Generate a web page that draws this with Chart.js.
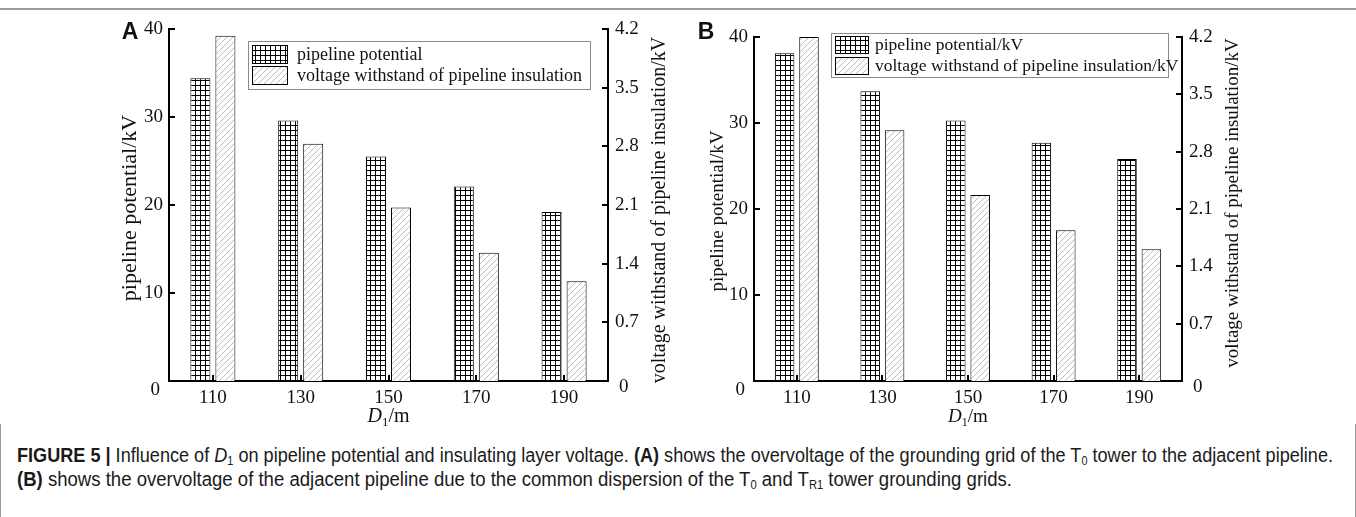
<!DOCTYPE html>
<html>
<head>
<meta charset="utf-8">
<script src="https://cdn.jsdelivr.net/npm/chart.js@4.4.1/dist/chart.umd.min.js"></script>
<style>
  html, body { margin:0; padding:0; background:#fff; }
  body { width:1356px; height:517px; position:relative; overflow:hidden; }
  #topline { position:absolute; left:0; top:8px; width:1356px; height:2px; background:#9a9a9a; }
  #capbox { position:absolute; left:0; top:424px; width:1354px; height:93px; border-left:1px solid #9a9a9a; border-right:1px solid #9a9a9a; }
  .cap { position:absolute; left:17px; white-space:nowrap; font-family:"Liberation Sans Narrow","Arial Narrow","Liberation Sans",Arial,sans-serif; font-size:20px; line-height:22px; color:#1a1a1a; transform-origin:0 0; }
  .cap sub { font-size:12px; vertical-align:-3px; line-height:0; }
  #cap1 { top:444px; }
  #cap2 { top:468px; }
  canvas { position:absolute; top:0; }
  #cA { left:0; }
  #cB { left:690px; }
</style>
</head>
<body>
<div id="topline"></div>
<div id="capbox"></div>
<canvas id="cA" width="690" height="430"></canvas>
<canvas id="cB" width="666" height="430"></canvas>
<div class="cap" id="cap1"><b>FIGURE 5 |</b> Influence of <i>D</i><sub>1</sub> on pipeline potential and insulating layer voltage. <b>(A)</b> shows the overvoltage of the grounding grid of the T<sub>0</sub> tower to the adjacent pipeline.</div>
<div class="cap" id="cap2"><b>(B)</b> shows the overvoltage of the adjacent pipeline due to the common dispersion of the T<sub>0</sub> and T<sub>R1</sub> tower grounding grids.</div>
<script>
// ---- data ----
const categories = ['110', '130', '150', '170', '190'];
const potentialA = [34.4, 29.6, 25.5, 22.1, 19.2];
const insulationA = [4.12, 2.83, 2.07, 1.53, 1.19];
const potentialB = [38.1, 33.7, 30.3, 27.7, 25.8];
const insulationB = [4.2, 3.06, 2.27, 1.84, 1.61];
const leftTicks = [0, 10, 20, 30, 40];
const rightTicks = [0, 0.7, 1.4, 2.1, 2.8, 3.5, 4.2];
const rightTickLabels = ['0', '0.7', '1.4', '2.1', '2.8', '3.5', '4.2'];
const legendLabelsA = ['pipeline potential', 'voltage withstand of pipeline insulation'];
const legendLabelsB = ['pipeline potential/kV', 'voltage withstand of pipeline insulation/kV'];
const leftTitle = 'pipeline potential/kV';
const rightTitle = 'voltage withstand of pipeline insulation/kV';

Chart.defaults.font.family = '"Liberation Serif", "Times New Roman", serif';
Chart.defaults.color = '#111';

function gridPattern(ctx) {
  const s = 5;
  const c = document.createElement('canvas'); c.width = s; c.height = s;
  const g = c.getContext('2d');
  g.fillStyle = '#fff'; g.fillRect(0, 0, s, s);
  g.fillStyle = '#000'; g.fillRect(0, 0, s, 1); g.fillRect(0, 0, 1, s);
  return ctx.createPattern(c, 'repeat');
}
function hatchPattern(ctx) {
  const s = 6;
  const c = document.createElement('canvas'); c.width = s; c.height = s;
  const g = c.getContext('2d');
  g.fillStyle = '#fff'; g.fillRect(0, 0, s, s);
  g.strokeStyle = '#b4b4b4'; g.lineWidth = 0.9;
  g.beginPath();
  g.moveTo(0, s); g.lineTo(s, 0);
  g.moveTo(-1, 1); g.lineTo(1, -1);
  g.moveTo(s - 1, s + 1); g.lineTo(s + 1, s - 1);
  g.stroke();
  return ctx.createPattern(c, 'repeat');
}

const deco = {
  id: 'deco',
  afterDraw(chart, args, o) {
    const { ctx, chartArea: ca, scales } = chart;
    const x = scales.x, y = scales.y, y1 = scales.y1;
    ctx.save();
    // inward ticks
    ctx.strokeStyle = '#000'; ctx.lineWidth = 2;
    ctx.beginPath();
    y.ticks.forEach(t => { const p = Math.round(y.getPixelForValue(t.value)); ctx.moveTo(ca.left, p); ctx.lineTo(ca.left + 6, p); });
    y1.ticks.forEach(t => { const p = Math.round(y1.getPixelForValue(t.value)); ctx.moveTo(ca.right - 6, p); ctx.lineTo(ca.right, p); });
    ctx.stroke();
    ctx.fillStyle = '#000';
    categories.forEach((c, i) => { const p = x.getPixelForValue(i); ctx.fillRect(Math.round(p) - 1, ca.bottom - 6, 2, 6); });
    // zero labels
    ctx.font = o.tickSize + 'px "Liberation Serif", serif';
    ctx.fillStyle = '#111'; ctx.textBaseline = 'middle';
    ctx.textAlign = 'right'; ctx.fillText('0', ca.left - 9, ca.bottom + 9);
    ctx.textAlign = 'left'; ctx.fillText('0', ca.right + 11, ca.bottom + 6);
    // axis titles
    ctx.textAlign = 'center'; ctx.textBaseline = 'middle';
    ctx.font = o.leftTitleSize + 'px "Liberation Serif", serif';
    ctx.save(); ctx.translate(o.leftTitleX, o.leftTitleY); ctx.rotate(-Math.PI / 2); ctx.fillText(leftTitle, 0, 0); ctx.restore();
    ctx.font = o.titleSize + 'px "Liberation Serif", serif';
    ctx.save(); ctx.translate(o.rightTitleX, o.rightTitleY); ctx.rotate(-Math.PI / 2); ctx.fillText(rightTitle, 0, 0); ctx.restore();
    // x title: D1/m
    const cx = (ca.left + ca.right) / 2;
    const fs = o.titleSize;
    ctx.textAlign = 'left'; ctx.textBaseline = 'alphabetic';
    const fI = 'italic ' + fs + 'px "Liberation Serif", serif';
    const fN = fs + 'px "Liberation Serif", serif';
    const fS = Math.round(fs * 0.65) + 'px "Liberation Serif", serif';
    ctx.font = fI; const wD = ctx.measureText('D').width;
    ctx.font = fS; const w1 = ctx.measureText('1').width;
    ctx.font = fN; const wm = ctx.measureText('/m').width;
    let sx = cx - (wD + w1 + wm) / 2; const by = o.xTitleY;
    ctx.font = fI; ctx.fillText('D', sx, by); sx += wD;
    ctx.font = fS; ctx.fillText('1', sx, by + 4); sx += w1;
    ctx.font = fN; ctx.fillText('/m', sx, by);
    // legend
    const L = o.legend;
    ctx.fillStyle = '#fff'; ctx.fillRect(L.x, L.y, L.w, L.h);
    ctx.strokeStyle = '#8a8a8a'; ctx.lineWidth = 1; ctx.strokeRect(L.x + 0.5, L.y + 0.5, L.w, L.h);
    const ds = chart.data.datasets;
    ds.forEach((d, i) => {
      const yy = L.y + L.sy[i];
      ctx.fillStyle = d.backgroundColor; ctx.fillRect(L.x + 4, yy, L.sw, L.sh);
      ctx.strokeStyle = '#000'; ctx.strokeRect(L.x + 4.5, yy + 0.5, L.sw, L.sh);
      ctx.fillStyle = '#111'; ctx.font = L.fs + 'px "Liberation Serif", serif';
      ctx.textAlign = 'left'; ctx.textBaseline = 'middle';
      ctx.fillText(L.labels[i], L.tx, yy + L.sh / 2 + 1);
    });
    // panel letter
    ctx.fillStyle = '#111'; ctx.font = 'bold 23px "Liberation Sans", Arial, sans-serif';
    ctx.textAlign = 'center'; ctx.textBaseline = 'middle';
    ctx.fillText(o.letter, o.letterX, o.letterY);
    ctx.restore();
  }
};

function makeChart(id, pot, ins, cfg) {
  const canvas = document.getElementById(id);
  const ctx = canvas.getContext('2d');
  return new Chart(ctx, {
    type: 'bar',
    data: {
      labels: categories,
      datasets: [
        { label: cfg.legend.labels[0], data: pot, yAxisID: 'y', backgroundColor: gridPattern(ctx), borderColor: '#000', borderWidth: 1, categoryPercentage: 0.57, barPercentage: 0.8 },
        { label: cfg.legend.labels[1], data: ins, yAxisID: 'y1', backgroundColor: hatchPattern(ctx), borderColor: '#000', borderWidth: 1, categoryPercentage: 0.57, barPercentage: 0.8 }
      ]
    },
    options: {
      responsive: false,
      animation: false,
      devicePixelRatio: 1,
      layout: { padding: { top: cfg.top, left: 0, right: 0, bottom: 0 } },
      plugins: { legend: { display: false }, tooltip: { enabled: false }, deco: cfg },
      scales: {
        x: {
          type: 'category', offset: true,
          grid: { display: false, drawTicks: false },
          border: { display: true, color: '#000', width: 2 },
          ticks: { padding: 6, font: { size: cfg.tickSize }, color: '#111', maxRotation: 0 },
          afterFit: s => { s.height = cfg.xH; }
        },
        y: {
          position: 'left', min: 0, max: 40,
          afterBuildTicks: s => { s.ticks = leftTicks.map(v => ({ value: v })); },
          grid: { display: false, drawTicks: false },
          border: { display: true, color: '#000', width: 2 },
          ticks: { padding: 6, font: { size: cfg.tickSize }, color: '#111', callback: v => (v === 0 ? '' : String(v)) },
          afterFit: s => { s.width = cfg.yW; }
        },
        y1: {
          position: 'right', min: 0, max: 4.2,
          afterBuildTicks: s => { s.ticks = rightTicks.map(v => ({ value: v })); },
          grid: { display: false, drawTicks: false },
          border: { display: true, color: '#000', width: 2 },
          ticks: { padding: 7, font: { size: cfg.tickSize }, color: '#111', callback: (v, i) => (i === 0 ? '' : rightTickLabels[i]) },
          afterFit: s => { s.width = cfg.y1W; }
        }
      }
    },
    plugins: [deco]
  });
}

makeChart('cA', potentialA, insulationA, {
  top: 29, xH: 430 - 381, yW: 169, y1W: 690 - 608,
  tickSize: 19, titleSize: 20, leftTitleSize: 22,
  leftTitleX: 130, leftTitleY: 208, rightTitleX: 660, rightTitleY: 210, xTitleY: 422,
  letter: 'A', letterX: 130, letterY: 33,
  legend: { x: 248, y: 41, w: 342, h: 48, sy: [4, 25], sw: 35, sh: 18, tx: 297, fs: 18, labels: legendLabelsA }
});
makeChart('cB', potentialB, insulationB, {
  top: 37, xH: 430 - 381, yW: 754 - 690, y1W: 666 - (1182 - 690),
  tickSize: 19, titleSize: 19, leftTitleSize: 19,
  leftTitleX: 718 - 690, leftTitleY: 211, rightTitleX: 1233 - 690, rightTitleY: 203, xTitleY: 422,
  letter: 'B', letterX: 706 - 690, letterY: 33,
  legend: { x: 831 - 690, y: 33, w: 337, h: 44, sy: [3, 24], sw: 33, sh: 17, tx: 875 - 690, fs: 17.5, labels: legendLabelsB }
});

// fit caption lines to the reference widths
function fit(id, target) {
  const el = document.getElementById(id);
  const w = el.getBoundingClientRect().width;
  el.style.transform = 'scaleX(' + (target / w) + ')';
}
fit('cap1', 1333 - 17);
fit('cap2', 1012 - 17);
</script>
</body>
</html>
